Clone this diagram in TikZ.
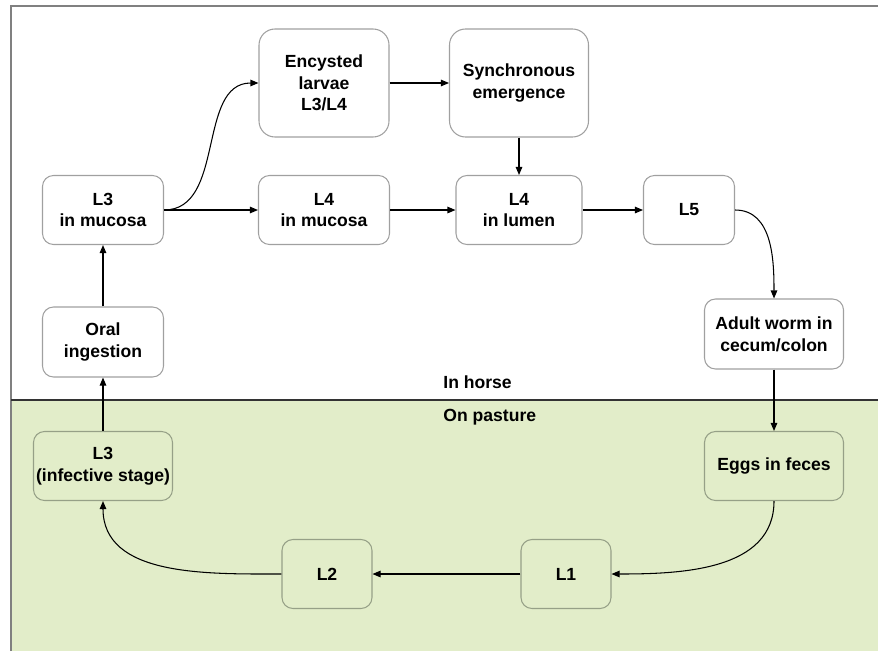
\documentclass[tikz,border=0pt]{standalone}
\usepackage{fontspec}
\setmainfont{Liberation Sans}
\usetikzlibrary{positioning,arrows.meta}
\definecolor{pasture}{RGB}{226,237,201}
\definecolor{boxline}{RGB}{160,160,160}
\definecolor{greenline}{RGB}{150,160,135}

\begin{document}
\begin{tikzpicture}[->,>={Triangle[length=1.6mm,width=1.3mm]},on grid,
		line width=0.6pt,
		stage/.style={rectangle,rounded corners=0.22cm,draw=boxline,fill=white,align=center,
			font=\fontsize{10}{12.3}\selectfont\bfseries,minimum height=1.38cm,inner sep=1pt},
		field stage/.style={stage,draw=greenline,fill=pasture},
		big stage/.style={stage,rounded corners=0.32cm,minimum height=2.16cm},
		zone/.style={font=\fontsize{10}{12.3}\selectfont\bfseries,anchor=west}]

		% page and the two zones
		\useasboundingbox (0,0) rectangle (17.56,-13.02);
		\fill[pasture] (0.22,-8.0) rectangle (17.56,-13.02);
		\draw[-,gray] (0.22,-13.02) -- (0.22,-0.12) -- (17.56,-0.12);
		\draw[-,line width=1.2pt,black!80] (0.22,-8.0) -- (17.56,-8.0);
		\node[zone] (horse) at (8.74,-7.64) {In horse};
		\node[zone] (pasturelbl) at (8.74,-8.34) {On pasture};

		% inside the horse
		\node[stage,minimum width=2.42cm] (l3muc) at (2.06,-4.2) {L3\\in mucosa};
		\node[stage,minimum width=2.42cm,minimum height=1.4cm] (oral) [below=2.64cm of l3muc] {Oral\\ingestion};
		\node[stage,minimum width=2.62cm] (l4muc) [right=4.42cm of l3muc] {L4\\in mucosa};
		\node[big stage,minimum width=2.6cm] (enc) [above=2.54cm of l4muc] {Encysted\\larvae\\L3/L4};
		\node[stage,minimum width=2.52cm] (l4lum) [right=3.9cm of l4muc] {L4\\in lumen};
		\node[big stage,minimum width=2.78cm] (sync) [above=2.54cm of l4lum] {Synchronous\\emergence};
		\node[stage,minimum width=1.82cm] (l5) [right=3.4cm of l4lum] {L5};

		% on pasture
		\node[field stage,minimum width=2.78cm] (l3inf) [below=2.48cm of oral] {L3\\(infective stage)};
		\node[field stage,minimum width=2.78cm] (eggs) [right=13.42cm of l3inf] {Eggs in feces};
		\node[stage,minimum width=2.78cm,minimum height=1.4cm] (adult) [above=2.64cm of eggs] {Adult worm in\\cecum/colon};
		\node[field stage,minimum width=1.8cm] (l2) [below right=2.16cm and 4.48cm of l3inf] {L2};
		\node[field stage,minimum width=1.8cm] (l1) [right=4.78cm of l2] {L1};

		\path
		(l3muc) edge (l4muc)
		(l3muc.east) edge[out=0,in=180] (enc.west)
		(enc) edge (sync)
		(sync) edge (l4lum)
		(l4muc) edge (l4lum)
		(l4lum) edge (l5)
		(l5.east) edge[out=0,in=90] (adult.north)
		(adult) edge (eggs)
		(eggs.south) edge[out=-90,in=0] (l1.east)
		(l1) edge (l2)
		(l2.west) edge[out=180,in=-90] (l3inf.south)
		(l3inf) edge (oral)
		(oral) edge (l3muc);
\end{tikzpicture}
\end{document}
